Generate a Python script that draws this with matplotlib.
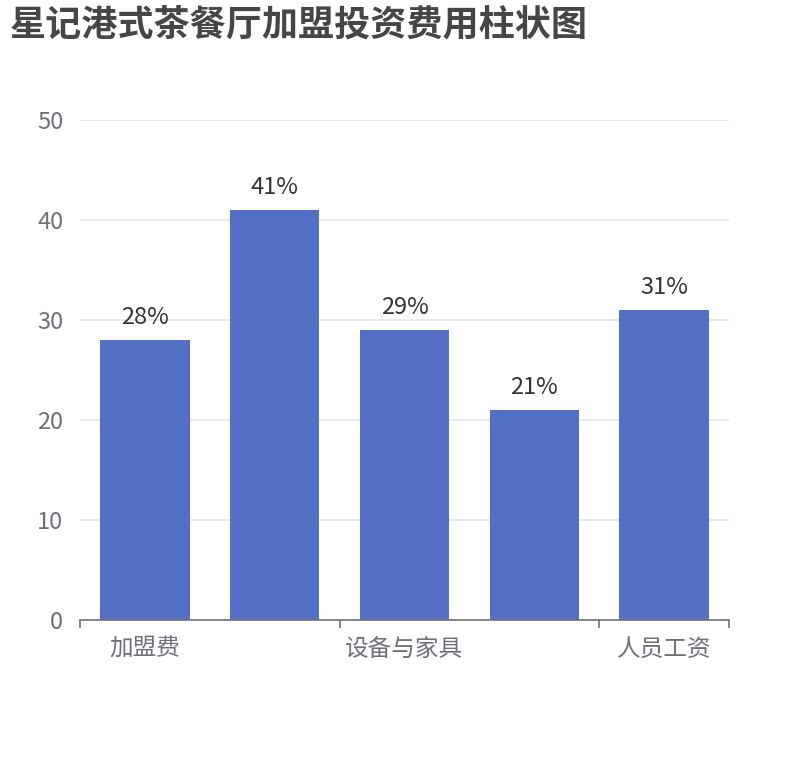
import numpy as np
import matplotlib
matplotlib.use("Agg")
import matplotlib.pyplot as plt

plt.rcParams['font.family'] = ['Noto Sans CJK SC', 'DejaVu Sans']

# data
categories = ["加盟费", "店铺租金", "设备与家具", "装修费用", "人员工资"]
values = [28, 41, 29, 21, 31]
shown_labels = ["加盟费", "", "设备与家具", "", "人员工资"]
y_ticks = [0, 10, 20, 30, 40, 50]
title = "星记港式茶餐厅加盟投资费用柱状图"

BAR = "#5470c6"
AXIS = "#6e7079"
GRID = "#e0e6f1"

DPI = 100
fig = plt.figure(figsize=(8.1, 7.6), dpi=DPI)
ax = fig.add_axes([80 / 810, 1 - 620 / 760, 649 / 810, 500 / 760])

x = np.arange(len(categories))
ax.bar(x, values, width=0.69, color=BAR, zorder=3)

for xi, v in zip(x, values):
    ax.annotate(f"{v}%", (xi, v), xytext=(0, 11.5), textcoords="offset points",
                ha="center", va="baseline", fontsize=17, color="#333333")

ax.set_xlim(-0.5, len(categories) - 0.5)
ax.set_ylim(0, 50)
ax.set_yticks(y_ticks)
ax.yaxis.grid(True, color=GRID, linewidth=1.2, zorder=0)
ax.tick_params(axis="y", length=0, pad=12, labelsize=17, labelcolor=AXIS)

# boundary ticks at shown labels, labels centred under bars
ax.set_xticks([-0.5, 1.5, 3.5, 4.5])
ax.set_xticklabels([])
ax.tick_params(axis="x", which="major", length=6, width=1.2, color=AXIS)
ax.set_xticks(x, minor=True)
ax.set_xticklabels(shown_labels, minor=True)
ax.tick_params(axis="x", which="minor", length=0, pad=13, labelsize=17, labelcolor=AXIS)

for s in ["top", "right", "left"]:
    ax.spines[s].set_visible(False)
ax.spines["bottom"].set_color(AXIS)
ax.spines["bottom"].set_linewidth(1.2)
ax.spines["bottom"].set_zorder(4)

fig.text(10 / 810, 1 - 25 / 760, title, fontsize=26, fontweight="bold",
         color="#464646", ha="left", va="center")

fig.savefig("out.png", dpi=DPI)
